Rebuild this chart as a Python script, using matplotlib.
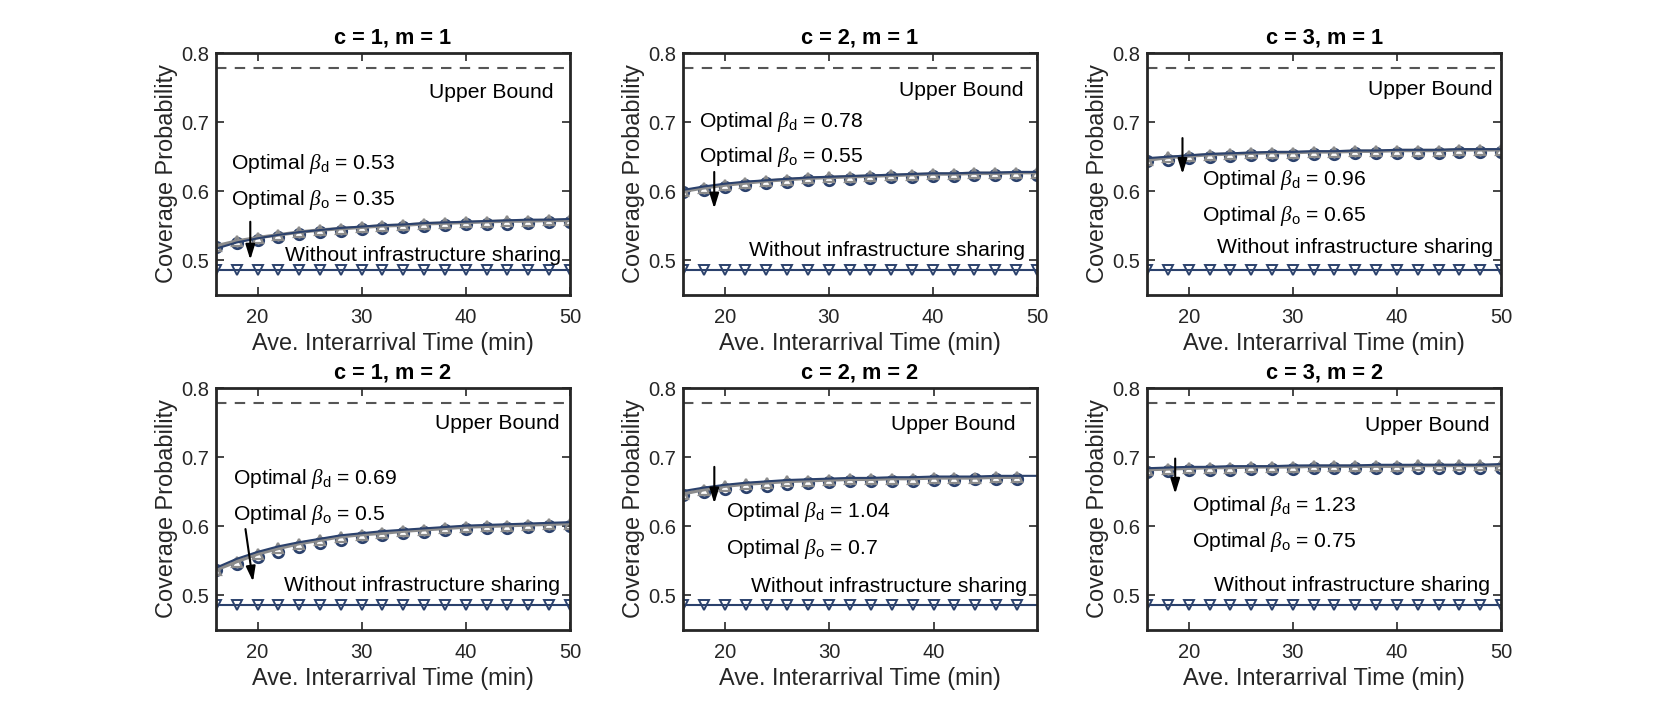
import numpy as np
import matplotlib
matplotlib.use('Agg')
import matplotlib.pyplot as plt

plt.rcParams['font.family'] = ['Liberation Sans', 'DejaVu Sans']
plt.rcParams['mathtext.fontset'] = 'custom'
plt.rcParams['mathtext.rm'] = 'Liberation Sans'
plt.rcParams['mathtext.it'] = 'Liberation Serif:italic'

# interarrival time grid (min)
x_time = [16, 18, 20, 22, 24, 26, 28, 30, 32, 34, 36, 38, 40, 42, 44, 46, 48, 50]

upper_bound = 0.778
no_share = 0.486

titles = ['c = 1, m = 1', 'c = 2, m = 1', 'c = 3, m = 1',
          'c = 1, m = 2', 'c = 2, m = 2', 'c = 3, m = 2']

# analysis curve (navy line)
ana = [
  [0.517, 0.526, 0.532, 0.537, 0.541, 0.544, 0.547, 0.549, 0.551, 0.552, 0.554, 0.555, 0.556, 0.557, 0.558, 0.559, 0.559, 0.560],
  [0.602, 0.607, 0.611, 0.614, 0.616, 0.618, 0.620, 0.621, 0.622, 0.623, 0.624, 0.625, 0.626, 0.626, 0.627, 0.627, 0.628, 0.628],
  [0.648, 0.650, 0.652, 0.654, 0.655, 0.656, 0.657, 0.657, 0.658, 0.658, 0.659, 0.659, 0.660, 0.660, 0.660, 0.661, 0.661, 0.661],
  [0.540, 0.553, 0.563, 0.571, 0.577, 0.582, 0.587, 0.590, 0.593, 0.595, 0.597, 0.599, 0.601, 0.602, 0.603, 0.604, 0.605, 0.606],
  [0.651, 0.656, 0.660, 0.663, 0.665, 0.667, 0.668, 0.669, 0.670, 0.670, 0.671, 0.671, 0.672, 0.672, 0.672, 0.673, 0.673, 0.673],
  [0.684, 0.685, 0.686, 0.686, 0.687, 0.687, 0.687, 0.688, 0.688, 0.688, 0.688, 0.689, 0.689, 0.689, 0.689, 0.689, 0.689, 0.690],
]
# simulation, navy circles
sim_c = [
  [0.520, 0.525, 0.530, 0.534, 0.538, 0.541, 0.543, 0.545, 0.547, 0.548, 0.550, 0.551, 0.552, 0.553, 0.553, 0.554, 0.555, 0.555],
  [0.599, 0.602, 0.606, 0.609, 0.612, 0.614, 0.616, 0.617, 0.618, 0.619, 0.620, 0.621, 0.622, 0.622, 0.623, 0.623, 0.624, 0.624],
  [0.644, 0.646, 0.648, 0.650, 0.651, 0.652, 0.653, 0.653, 0.654, 0.654, 0.655, 0.655, 0.656, 0.656, 0.656, 0.657, 0.657, 0.657],
  [0.537, 0.546, 0.556, 0.563, 0.570, 0.576, 0.580, 0.584, 0.587, 0.590, 0.592, 0.594, 0.596, 0.597, 0.598, 0.599, 0.600, 0.601],
  [0.645, 0.650, 0.654, 0.657, 0.659, 0.661, 0.663, 0.664, 0.665, 0.665, 0.666, 0.666, 0.667, 0.667, 0.668, 0.668, 0.668, np.nan],
  [0.679, 0.680, 0.681, 0.682, 0.682, 0.683, 0.683, 0.683, 0.684, 0.684, 0.684, 0.684, 0.685, 0.685, 0.685, 0.685, 0.685, 0.685],
]
# simulation, grey triangles
sim_t = [
  [0.521, 0.528, 0.533, 0.537, 0.541, 0.544, 0.546, 0.548, 0.550, 0.551, 0.553, 0.554, 0.555, 0.556, 0.557, 0.557, 0.558, 0.558],
  [0.600, 0.605, 0.609, 0.612, 0.615, 0.617, 0.619, 0.620, 0.621, 0.622, 0.623, 0.624, 0.625, 0.625, 0.626, 0.626, 0.627, 0.627],
  [0.645, 0.649, 0.651, 0.653, 0.654, 0.655, 0.656, 0.656, 0.657, 0.657, 0.658, 0.658, 0.659, 0.659, 0.659, 0.660, 0.660, 0.660],
  [0.537, 0.549, 0.560, 0.568, 0.575, 0.580, 0.585, 0.588, 0.590, 0.593, 0.595, 0.597, 0.599, 0.600, 0.601, 0.602, 0.603, 0.604],
  [0.647, 0.653, 0.658, 0.661, 0.663, 0.665, 0.666, 0.667, 0.668, 0.668, 0.669, 0.669, 0.670, 0.670, 0.670, 0.671, 0.671, np.nan],
  [0.682, 0.683, 0.684, 0.685, 0.685, 0.686, 0.686, 0.686, 0.687, 0.687, 0.687, 0.687, 0.687, 0.688, 0.688, 0.688, 0.688, 0.688],
]

beta_d = ['0.53', '0.78', '0.96', '0.69', '1.04', '1.23']
beta_o = ['0.35', '0.55', '0.65', '0.5', '0.7', '0.75']

# annotation placement (data coords): upper bound text, beta_d text, beta_o text, no-share text, arrow
txt_ub = [(36.5, 0.743), (36.7, 0.746), (37.2, 0.747), (37.0, 0.748), (35.9, 0.747), (36.9, 0.746)]
txt_bd = [(17.4, 0.639), (17.5, 0.700), (21.3, 0.616), (17.6, 0.668), (20.1, 0.621), (20.3, 0.629)]
txt_bo = [(17.4, 0.587), (17.5, 0.650), (21.3, 0.564), (17.6, 0.617), (20.1, 0.567), (20.3, 0.577)]
txt_ns = [(22.6, 0.507), (22.3, 0.515), (22.7, 0.519), (22.5, 0.515), (22.5, 0.513), (22.4, 0.515)]
arrows = [((19.3, 0.560), (19.3, 0.497)), ((19.0, 0.632), (19.0, 0.571)), ((19.4, 0.681), (19.4, 0.621)),
          ((18.8, 0.600), (19.6, 0.516)), ((19.0, 0.690), (19.0, 0.629)), ((18.7, 0.702), (18.7, 0.643))]

NAVY = '#2b416c'
GREY = '#8c8c8c'
AXC = '#262626'
TFS = 15.2

fig = plt.figure(figsize=(16.61, 7.09), dpi=100)
lefts = [0.130, 0.4112, 0.6906]
bottoms = [0.5839, 0.1114]
W, H = 0.2131, 0.3413

for i in range(6):
  r, c = divmod(i, 3)
  ax = fig.add_axes([lefts[c], bottoms[r], W, H])
  last = i == 4  # this panel stops at 48
  n = 17 if last else 18
  ax.axhline(upper_bound, color='#555555', lw=1.5, ls=(0, (5, 4)))
  ax.plot(x_time, [no_share] * 18, color=NAVY, lw=1.5, marker='v', ms=7,
          mfc='none', mec=NAVY, mew=1.4, markevery=slice(0, n))
  ax.plot(x_time, sim_c[i], ls='none', marker='o', ms=7.5, mfc='none', mec=NAVY, mew=2)
  ax.plot(x_time, sim_t[i], color=GREY, lw=2.5, marker='^', ms=7.5, mfc='none', mec=GREY, mew=1.6)
  ax.plot(x_time, ana[i], color=NAVY, lw=1.5)

  ax.text(*txt_ub[i], 'Upper Bound', fontsize=TFS, va='center')
  ax.text(*txt_bd[i], r'Optimal $\mathit{\beta}_{\mathrm{d}}$ = ' + beta_d[i], fontsize=TFS, va='center')
  ax.text(*txt_bo[i], r'Optimal $\mathit{\beta}_{\mathrm{o}}$ = ' + beta_o[i], fontsize=TFS, va='center')
  ax.text(*txt_ns[i], 'Without infrastructure sharing', fontsize=TFS, va='center')
  a0, a1 = arrows[i]
  ax.annotate('', xy=a1, xytext=a0,
              arrowprops=dict(arrowstyle='-|>,head_length=0.9,head_width=0.28', color='k', lw=1.5))

  ax.set_xlim(16, 49.9 if last else 50)
  ax.set_ylim(0.45, 0.8)
  ax.set_xticks([20, 30, 40] if last else [20, 30, 40, 50])
  ax.set_yticks([0.5, 0.6, 0.7, 0.8])
  ax.tick_params(direction='in', top=True, right=True, length=6, width=1.2,
                 labelsize=14.5, colors=AXC)
  ax.tick_params(axis='x', pad=9)
  ax.tick_params(axis='y', pad=5)
  for sp in ax.spines.values():
    sp.set_linewidth(2)
    sp.set_color(AXC)
  ax.set_title(titles[i], fontsize=15.7, fontweight='bold', pad=7)
  ax.set_xlabel('Ave. Interarrival Time (min)', fontsize=16.9, color=AXC, labelpad=4)
  ax.set_ylabel('Coverage Probability', fontsize=16.9, color=AXC, labelpad=2)

fig.savefig('out.png', dpi=100)
